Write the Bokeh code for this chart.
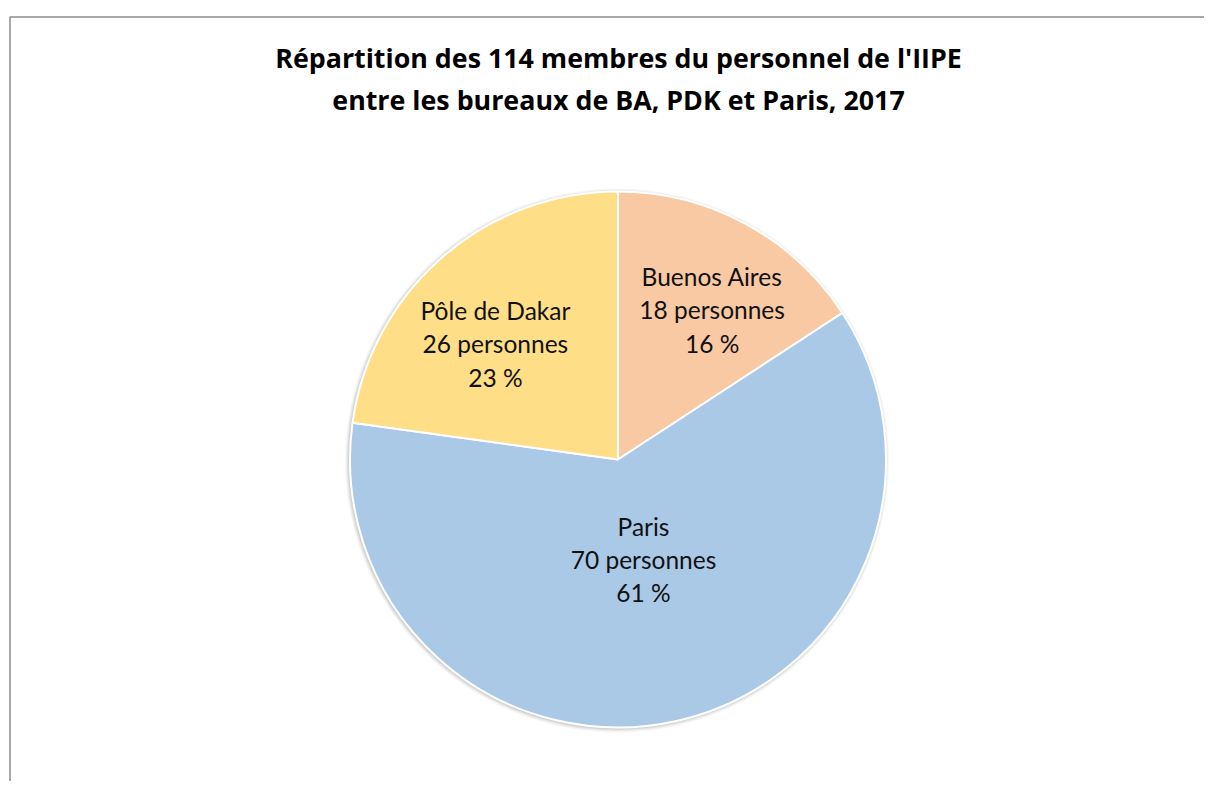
import math
from bokeh.plotting import figure
from bokeh.models import Range1d, ColumnDataSource
from bokeh.core.properties import value
from bokeh.embed import file_html
from bokeh.resources import INLINE

# ---- data ----
title_lines = ["Répartition des 114 membres du personnel de l'IIPE",
               "entre les bureaux de BA, PDK et Paris, 2017"]
offices = ["Buenos Aires", "Paris", "Pôle de Dakar"]
staff = [18, 70, 26]
percent_labels = ["16 %", "61 %", "23 %"]
colors = ["#F8C9A3", "#A9C9E7", "#FFDE88"]

# ---- layout (pixel-like data units) ----
W, H = 1204, 781
p = figure(width=W, height=H, output_backend="svg", toolbar_location=None,
           x_range=Range1d(0, W), y_range=Range1d(-H, 0),
           min_border=0, outline_line_color=None)
p.axis.visible = False
p.grid.visible = False
p.background_fill_color = "white"
p.border_fill_color = "white"

# chart-area border (extends past right/bottom edges, like the source crop)
p.quad(left=[9.5], right=[1400], top=[-16.5], bottom=[-1000],
       fill_color=None, line_color="#8C8C8C", line_width=1.5)

cx, cy, R = 617.5, -459.0, 268.0

# soft shadow
for dr, a in [(4, 0.03), (3, 0.04), (2, 0.05), (1, 0.06)]:
    p.circle(x=[cx - 1], y=[cy - 1], radius=R + dr, fill_color="black",
             fill_alpha=a, line_color=None)

total = sum(staff)
starts, ends, mids = [], [], []
cum = 0
for v in staff:
    a0 = math.pi / 2 - 2 * math.pi * cum / total
    cum += v
    a1 = math.pi / 2 - 2 * math.pi * cum / total
    starts.append(a1)
    ends.append(a0)
    mids.append((a0 + a1) / 2)

src = ColumnDataSource(dict(start=starts, end=ends, color=colors))
p.wedge(x=cx, y=cy, radius=R, start_angle="start", end_angle="end",
        fill_color="color", line_color="white", line_width=2, source=src)

# data labels
label_r = [0.655, 0.39, 0.625]
label_shift = [-4.0, 1.5, 6.0]  # degrees
lx, ly, txt = [], [], []
for i in range(len(staff)):
    ang = mids[i] + math.radians(label_shift[i])
    lx.append(cx + label_r[i] * R * math.cos(ang))
    ly.append(cy + label_r[i] * R * math.sin(ang) + 1.5)
    txt.append(f"{offices[i]}\n{staff[i]} personnes\n{percent_labels[i]}")
p.text(x=lx, y=ly, text=txt, text_align="center", text_baseline="middle",
       text_font=value("Lato"), text_font_size="24.5px", text_color="#111111",
       text_line_height=1.15)

# title
p.text(x=[618, 618], y=[-57, -99], text=title_lines, text_align="center",
       text_baseline="middle", text_font=value("Open Sans"), text_font_size="26.8px",
       text_font_style="bold", text_color="#000000")

open("out.html", "w").write(file_html(p, INLINE))
